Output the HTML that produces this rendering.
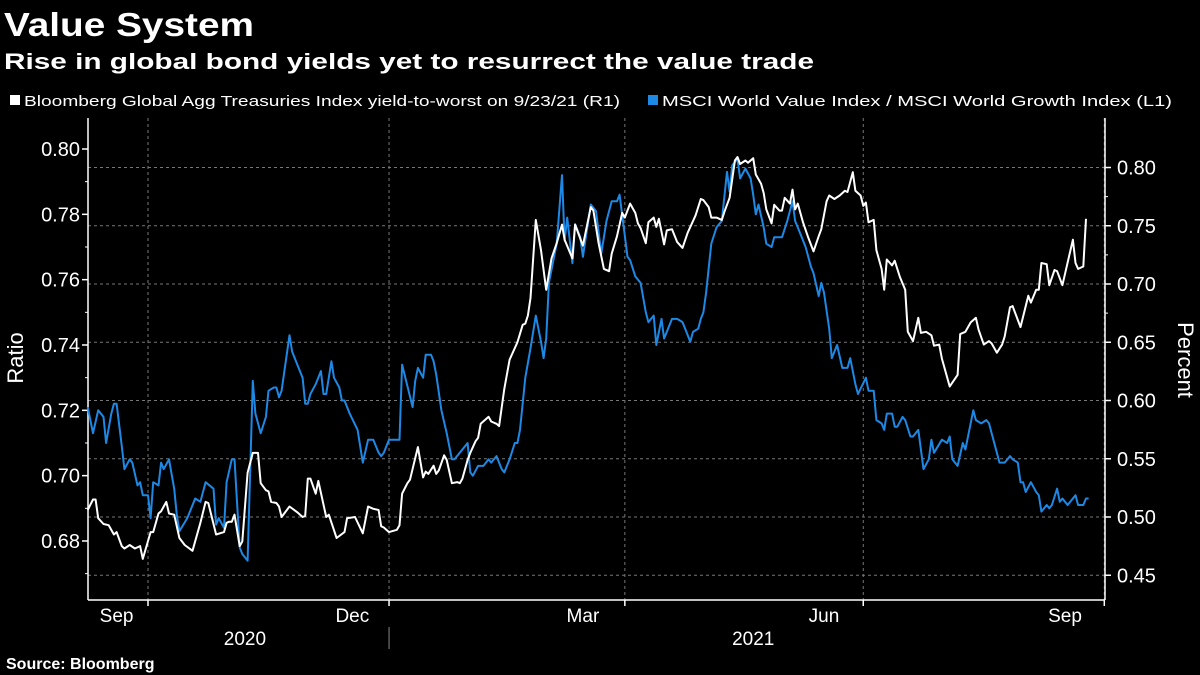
<!DOCTYPE html>
<html><head><meta charset="utf-8"><style>
html,body{margin:0;padding:0;background:#000;}
svg{display:block;font-family:"Liberation Sans",sans-serif;}
</style></head><body>
<svg id="chart" width="1200" height="675" viewBox="0 0 1200 675" xmlns="http://www.w3.org/2000/svg">
<rect width="1200" height="675" fill="#000"/>
<text x="4" y="36" fill="#fff" font-size="33" font-weight="bold" textLength="250" lengthAdjust="spacingAndGlyphs">Value System</text>
<text x="4" y="69" fill="#fff" font-size="22" font-weight="bold" textLength="810" lengthAdjust="spacingAndGlyphs">Rise in global bond yields yet to resurrect the value trade</text>
<g>
<rect x="10" y="95" width="10" height="10" fill="#fff"/>
<text x="24" y="106" fill="#fff" font-size="15" textLength="596" lengthAdjust="spacingAndGlyphs">Bloomberg Global Agg Treasuries Index yield-to-worst on 9/23/21 (R1)</text>
<rect x="648" y="95" width="10" height="10" fill="#1e88e5"/>
<text x="662" y="106" fill="#fff" font-size="15" textLength="510" lengthAdjust="spacingAndGlyphs">MSCI World Value Index / MSCI World Growth Index (L1)</text>
</g>
<g id="grid"></g>
<g id="axes"></g>
<g id="series"></g>
<text transform="translate(23,358) rotate(-90)" fill="#fff" font-size="22" text-anchor="middle">Ratio</text>
<text transform="translate(1178,360) rotate(90)" fill="#fff" font-size="22" text-anchor="middle">Percent</text>
<text x="6" y="669" fill="#fff" font-size="16" font-weight="bold">Source: Bloomberg</text>
</svg>
<script>
// Days since 2020-10-01
const blueDays=[-23,-21,-19,-17,-16,-14,-13,-12,-10,-9,-7,-6,-4,-3,-2,0,1,2,4,5,6,8,10,11,12,15,18,20,22,25,26,27,29,30,32,33,35,36,38,40,41,43,45,46,48,49,50,51,54,55,57,59,60,61,62,64,66,67,68,70,71,73,74,75,77,80,82,84,86,88,89,90,92,95,96,97,101,102,103,105,106,108,109,110,112,114,116,117,121,122,123,124,126,128,130,131,133,135,136,138,140,141,142,144,146,148,150,151,152,153,156,158,159,160,162,163,165,166,169,171,173,175,177,179,180,183,184,186,188,190,191,193,194,196,197,200,202,204,207,208,210,211,212,213,215,217,219,221,222,223,225,226,228,230,231,232,233,235,236,238,239,240,242,244,246,247,249,251,253,254,256,257,258,260,261,263,265,267,268,270,271,274,275,277,278,280,281,282,284,285,286,288,289,291,292,294,296,298,299,300,303,305,306,307,309,311,312,315,316,318,320,321,325,327,329,330,332,333,334,335,337,339,340,341,343,344,345,347,348,349,351,354,355,357,358,359];
const blueValues=[0.721,0.713,0.720,0.718,0.710,0.719,0.722,0.722,0.709,0.702,0.705,0.704,0.697,0.698,0.694,0.694,0.687,0.698,0.697,0.704,0.702,0.705,0.696,0.688,0.683,0.687,0.693,0.692,0.698,0.696,0.685,0.687,0.684,0.698,0.705,0.705,0.678,0.676,0.674,0.729,0.719,0.713,0.718,0.726,0.727,0.727,0.724,0.726,0.743,0.738,0.734,0.730,0.722,0.722,0.725,0.728,0.732,0.725,0.725,0.735,0.730,0.727,0.723,0.723,0.719,0.714,0.704,0.711,0.711,0.707,0.706,0.707,0.711,0.711,0.711,0.734,0.721,0.729,0.733,0.730,0.737,0.737,0.735,0.731,0.720,0.713,0.705,0.705,0.709,0.710,0.701,0.700,0.703,0.703,0.705,0.704,0.706,0.702,0.701,0.705,0.710,0.710,0.714,0.730,0.739,0.749,0.741,0.736,0.742,0.759,0.771,0.792,0.772,0.779,0.765,0.777,0.773,0.767,0.783,0.781,0.768,0.778,0.784,0.784,0.786,0.767,0.766,0.761,0.759,0.750,0.747,0.749,0.740,0.748,0.742,0.748,0.748,0.747,0.741,0.744,0.745,0.748,0.750,0.756,0.771,0.776,0.778,0.793,0.787,0.795,0.797,0.791,0.794,0.791,0.786,0.780,0.783,0.776,0.771,0.770,0.773,0.773,0.773,0.778,0.784,0.778,0.774,0.770,0.764,0.762,0.755,0.759,0.756,0.745,0.736,0.740,0.733,0.733,0.736,0.728,0.725,0.730,0.726,0.726,0.717,0.716,0.714,0.719,0.719,0.715,0.715,0.718,0.717,0.712,0.712,0.714,0.702,0.705,0.711,0.707,0.711,0.710,0.712,0.705,0.703,0.710,0.708,0.720,0.717,0.716,0.717,0.716,0.704,0.704,0.706,0.705,0.704,0.698,0.698,0.695,0.698,0.695,0.694,0.689,0.691,0.690,0.691,0.696,0.692,0.693,0.691,0.694,0.691,0.691,0.693,0.693];
const whiteDays=[-23,-21,-20,-19,-17,-15,-13,-12,-10,-9,-7,-5,-3,-2,1,2,4,5,7,8,10,12,14,17,20,22,23,26,29,30,31,32,33,35,36,38,40,42,43,45,46,47,49,50,51,54,57,59,60,61,62,64,65,68,69,72,75,76,79,82,84,86,88,89,90,92,95,96,97,99,100,103,105,106,107,109,110,111,113,114,116,118,119,120,122,123,125,126,127,130,131,133,134,136,138,139,141,143,144,145,146,148,150,152,154,156,158,159,162,163,165,166,169,170,172,174,176,177,179,181,182,184,186,187,188,190,191,193,194,195,197,198,200,202,204,206,208,209,211,212,214,215,217,219,220,222,224,225,226,228,229,231,232,234,235,236,238,239,241,242,243,245,246,247,248,250,252,254,256,257,259,260,262,264,266,267,269,270,272,273,274,275,277,278,280,281,282,284,285,287,289,290,292,294,295,297,299,300,302,303,305,306,309,310,312,314,316,317,319,321,322,324,326,327,329,330,333,336,337,339,340,341,343,344,346,347,349,353,354,355,357,358];
const whiteValues=[0.506,0.515,0.515,0.499,0.494,0.493,0.485,0.487,0.475,0.473,0.476,0.473,0.475,0.464,0.487,0.487,0.503,0.505,0.513,0.503,0.502,0.482,0.476,0.471,0.495,0.513,0.512,0.485,0.487,0.495,0.496,0.496,0.502,0.475,0.479,0.538,0.555,0.555,0.529,0.523,0.522,0.513,0.512,0.509,0.500,0.509,0.504,0.500,0.501,0.533,0.533,0.520,0.531,0.500,0.502,0.482,0.487,0.499,0.500,0.486,0.509,0.507,0.506,0.492,0.491,0.487,0.489,0.493,0.520,0.529,0.532,0.560,0.534,0.539,0.537,0.544,0.537,0.540,0.553,0.549,0.529,0.530,0.529,0.533,0.549,0.555,0.565,0.568,0.580,0.586,0.582,0.580,0.578,0.610,0.635,0.640,0.650,0.665,0.666,0.673,0.688,0.755,0.729,0.695,0.722,0.735,0.751,0.738,0.722,0.751,0.739,0.733,0.766,0.763,0.735,0.713,0.711,0.726,0.741,0.761,0.757,0.769,0.761,0.752,0.748,0.735,0.753,0.757,0.749,0.756,0.734,0.746,0.747,0.736,0.731,0.744,0.754,0.759,0.773,0.772,0.766,0.757,0.757,0.755,0.762,0.774,0.806,0.809,0.803,0.806,0.804,0.808,0.794,0.786,0.778,0.764,0.752,0.768,0.763,0.763,0.774,0.769,0.781,0.764,0.769,0.753,0.740,0.728,0.741,0.747,0.771,0.776,0.773,0.776,0.780,0.779,0.796,0.780,0.776,0.767,0.770,0.753,0.755,0.729,0.713,0.695,0.721,0.716,0.720,0.706,0.695,0.659,0.651,0.671,0.658,0.659,0.656,0.647,0.648,0.636,0.620,0.612,0.622,0.657,0.659,0.667,0.671,0.661,0.648,0.651,0.649,0.641,0.648,0.655,0.680,0.681,0.663,0.690,0.684,0.695,0.695,0.718,0.717,0.699,0.712,0.711,0.699,0.738,0.718,0.713,0.715,0.756];
const leftTicks=[0.68,0.70,0.72,0.74,0.76,0.78,0.80];
const leftTickLabels=["0.68","0.70","0.72","0.74","0.76","0.78","0.80"];
const rightTicks=[0.45,0.50,0.55,0.60,0.65,0.70,0.75,0.80];
const rightTickLabels=["0.45","0.50","0.55","0.60","0.65","0.70","0.75","0.80"];
const quarterDays=[0,92,182,273,365];
const monthLabels=["Sep","Dec","Mar","Jun","Sep"];
const monthLabelDays=[-12,78,166,258,350];
const yearLabels=["2020","2021"];
const yearLabelDays=[37,231];

const NS="http://www.w3.org/2000/svg";
const X0=88,X1=1105,YT=118,YB=600;
function xS(d){return 148+d*2.62;}
function yL(v){return 149+(0.80-v)/0.02*65.33;}
function yR(v){return 167.5+(0.80-v)/0.05*58.25;}
function mk(tag,attrs,parent){const e=document.createElementNS(NS,tag);for(const k in attrs)e.setAttribute(k,attrs[k]);parent.appendChild(e);return e;}
const grid=document.getElementById('grid'),axes=document.getElementById('axes'),series=document.getElementById('series');

rightTicks.forEach((t,i)=>{
  const y=yR(t);
  const g=mk('line',{x1:X0,x2:X1,y1:y,y2:y,stroke:'#777','stroke-width':1,'stroke-dasharray':'3,3'},grid);
  
  
  const tk=mk('line',{x1:X1,x2:X1+6,y1:y,y2:y,stroke:'#fff','stroke-width':1.5},axes);
  
  
  const tx=mk('text',{x:X1+12,y:y+7,fill:'#fff','font-size':20},axes);
  tx.textContent=rightTickLabels[i];
  
  
});
for(let v=0.675;v<=0.805;v+=0.025){const y=yR(v);if(y<YT||y>YB)continue;
  const m=mk('line',{x1:X1,x2:X1+3,y1:y,y2:y,stroke:'#fff','stroke-width':1},axes);
  
  }
quarterDays.forEach(d=>{
  const x=xS(d);
  const g=mk('line',{x1:x,x2:x,y1:YT,y2:YB,stroke:'#777','stroke-width':1,'stroke-dasharray':'3,3'},grid);
  
  
  const tk=mk('line',{x1:x,x2:x,y1:YB,y2:YB+6,stroke:'#fff','stroke-width':1.5},axes);
  
  
});
leftTicks.forEach((t,i)=>{
  const y=yL(t);
  const tk=mk('line',{x1:X0-6,x2:X0,y1:y,y2:y,stroke:'#fff','stroke-width':1.5},axes);
  
  
  const tx=mk('text',{x:X0-8,y:y+7,fill:'#fff','font-size':20,'text-anchor':'end'},axes);
  tx.textContent=leftTickLabels[i];
  
  
  const ym=yL(t-0.01);
  if(ym<YB){const m=mk('line',{x1:X0-3,x2:X0,y1:ym,y2:ym,stroke:'#fff','stroke-width':1},axes);
  
  }
});
const spines=[[X0,YT,X0,YB],[X1,YT,X1,YB],[X0,YB,X1,YB]];
spines.forEach(s=>{const l=mk('line',{x1:s[0],y1:s[1],x2:s[2],y2:s[3],stroke:'#fff','stroke-width':1.5},axes);
  
  });
monthLabels.forEach((m,i)=>{
  const tx=mk('text',{x:xS(monthLabelDays[i]),y:622,fill:'#fff','font-size':19,'text-anchor':'middle'},axes);
  tx.textContent=m;
  
  
});
yearLabels.forEach((m,i)=>{
  const tx=mk('text',{x:xS(yearLabelDays[i]),y:645,fill:'#fff','font-size':19,'text-anchor':'middle'},axes);
  tx.textContent=m;
  
  
});
const sep=mk('line',{x1:xS(92),x2:xS(92),y1:627,y2:649,stroke:'#888','stroke-width':1},axes);



function path(days,vals,ys){return days.map((d,i)=>(i?'L':'M')+xS(d).toFixed(1)+','+ys(vals[i]).toFixed(1)).join('');}
const bl=mk('path',{d:path(blueDays,blueValues,yL),fill:'none',stroke:'#1e88e5','stroke-width':2,'stroke-linejoin':'round'},series);


const wl=mk('path',{d:path(whiteDays,whiteValues,yR),fill:'none',stroke:'#fff','stroke-width':2,'stroke-linejoin':'round'},series);


</script>
</body></html>
